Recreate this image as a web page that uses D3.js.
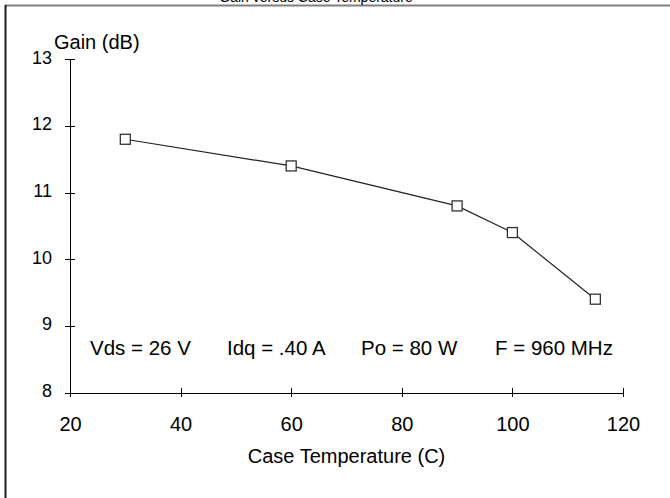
<!DOCTYPE html>
<html>
<head>
<meta charset="utf-8">
<script src="https://cdn.jsdelivr.net/npm/d3@7"></script>
<style>
  body { margin: 0; background: #fff; }
  svg { display: block; font-family: "Liberation Sans", Arial, sans-serif; }
  .axis path, .axis line { stroke: #000; stroke-width: 1; shape-rendering: crispEdges; }
  .axis text { fill: #000; }
</style>
</head>
<body>
<script>
// data
var temps = [30, 60, 90, 100, 115];
var gains = [11.8, 11.4, 10.8, 10.4, 9.4];
var xTicks = [20, 40, 60, 80, 100, 120];
var yTicks = [8, 9, 10, 11, 12, 13];
var notes = ['Vds = 26 V', 'Idq = .40 A', 'Po = 80 W', 'F = 960 MHz'];
var noteX = [90, 227, 361, 495];

var width = 670, height = 498;

var svg = d3.select('body').append('svg')
    .attr('width', width)
    .attr('height', height);

// frame of the chart (cut at top and right)
svg.append('line')
    .attr('x1', 5).attr('x2', width)
    .attr('y1', 5.5).attr('y2', 5.5)
    .attr('stroke', '#808080').attr('stroke-width', 2);
svg.append('line')
    .attr('x1', 5.5).attr('x2', 5.5)
    .attr('y1', 5).attr('y2', height)
    .attr('stroke', '#1a1a1a').attr('stroke-width', 2);

// title, mostly outside of the picture
svg.append('text')
    .attr('x', 316).attr('y', 2)
    .attr('text-anchor', 'middle')
    .style('font-size', '14px')
    .text('Gain versus Case Temperature');

var x = d3.scaleLinear().domain([20, 120]).range([70, 623]);
var y = d3.scaleLinear().domain([8, 13]).range([392.5, 59.3]);

// x axis
var gx = svg.append('g')
    .attr('class', 'axis')
    .attr('transform', 'translate(0,' + y(8) + ')')
    .call(d3.axisBottom(x).tickValues(xTicks).tickFormat(d3.format('d')).tickSize(4.5).tickSizeOuter(0));
gx.selectAll('.tick line').attr('y1', -4.5);
gx.selectAll('.tick text').style('font-size', '20px').attr('dy', null).attr('y', 38);

// y axis
var gy = svg.append('g')
    .attr('class', 'axis')
    .attr('transform', 'translate(' + x(20) + ',0)')
    .call(d3.axisLeft(y).tickValues(yTicks).tickFormat(d3.format('d')).tickSize(5).tickSizeOuter(0));
gy.selectAll('.tick line').attr('x1', 5);
gy.selectAll('.tick text').style('font-size', '18px').attr('x', -18).attr('dy', 4);

svg.append('text')
    .attr('x', 54).attr('y', 49)
    .style('font-size', '20px')
    .text('Gain (dB)');

svg.append('text')
    .attr('x', (x(20) + x(120)) / 2).attr('y', 463)
    .attr('text-anchor', 'middle')
    .style('font-size', '20px')
    .text('Case Temperature (C)');

// test conditions
svg.selectAll('.note')
    .data(notes)
    .enter().append('text')
    .attr('class', 'note')
    .attr('x', function(d, i) { return noteX[i]; })
    .attr('y', 355)
    .style('font-size', '20.5px')
    .text(function(d) { return d; });

// series
var pts = temps.map(function(t, i) { return [t, gains[i]]; });
var line = d3.line()
    .x(function(d) { return x(d[0]); })
    .y(function(d) { return y(d[1]); });

svg.append('path')
    .datum(pts)
    .attr('d', line)
    .attr('fill', 'none')
    .attr('stroke', '#222')
    .attr('stroke-width', 1.2);

svg.selectAll('.mark')
    .data(pts)
    .enter().append('rect')
    .attr('class', 'mark')
    .attr('x', function(d) { return x(d[0]) - 5; })
    .attr('y', function(d) { return y(d[1]) - 5; })
    .attr('width', 10)
    .attr('height', 10)
    .attr('fill', '#fff')
    .attr('stroke', '#333')
    .attr('stroke-width', 1.3);
</script>
</body>
</html>
